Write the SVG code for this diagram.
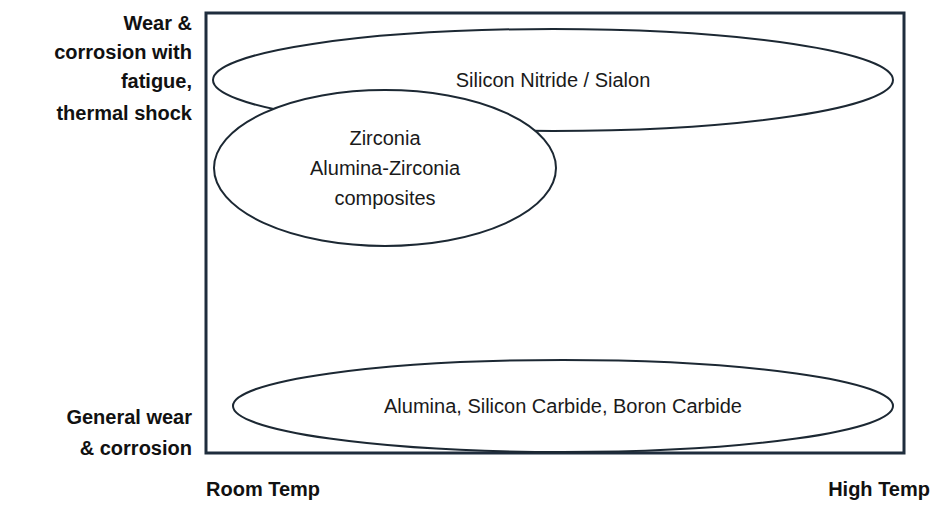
<svg xmlns="http://www.w3.org/2000/svg" width="950" height="522" viewBox="0 0 950 522">
<style>
.e{fill:#fff;stroke:#1c2833;stroke-width:2}
.t{font-family:"Liberation Sans",Arial,sans-serif;font-size:20px;fill:#1a1a1a;text-anchor:middle}
.b{font-family:"Liberation Sans",Arial,sans-serif;font-size:20px;font-weight:bold;fill:#111}
</style>
<rect width="950" height="522" fill="#fff"/>
<rect x="206" y="13" width="698" height="440" fill="none" stroke="#1f2d3d" stroke-width="3"/>
<g id="sin"><ellipse class="e" cx="553" cy="80" rx="340" ry="51"/><text class="t" x="553" y="87">Silicon Nitride / Sialon</text></g>
<g id="zr"><ellipse class="e" cx="385" cy="168" rx="171" ry="78"/>
<text class="t" x="385" y="145">Zirconia</text><text class="t" x="385" y="175">Alumina-Zirconia</text><text class="t" x="385" y="205">composites</text></g>
<g id="al"><ellipse class="e" cx="563" cy="406" rx="330" ry="46"/><text class="t" x="563" y="413">Alumina, Silicon Carbide, Boron Carbide</text></g>
<g id="labels" class="b">
<text x="192" y="30" text-anchor="end">Wear &amp;</text>
<text x="192" y="59" text-anchor="end">corrosion with</text>
<text x="192" y="88" text-anchor="end">fatigue,</text>
<text x="192" y="120" text-anchor="end">thermal shock</text>
<text x="192" y="424" text-anchor="end">General wear</text>
<text x="192" y="455" text-anchor="end">&amp; corrosion</text>
<text x="206" y="496">Room Temp</text>
<text x="930" y="496" text-anchor="end">High Temp</text>
</g>
<g id="connectors"/>
</svg>
